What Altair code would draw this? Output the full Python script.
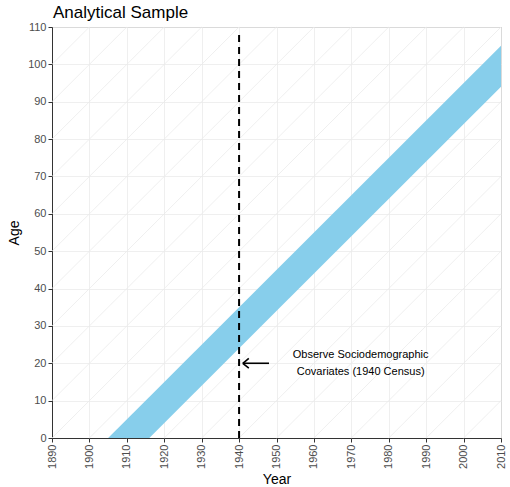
import altair as alt
import pandas as pd

# --- data ---
x_ticks = list(range(1890, 2011, 10))
y_ticks = list(range(0, 111, 10))
birth_lines = list(range(1780, 2010, 10))   # lexis cohort lines
cohort_start = 1905
cohort_end = 1916
band_years = [1905, 1916, 2010]
census_year = 1940
dash_top = 108.5
arrow_tip = 1941
arrow_tail = 1948
arrow_age = 20
label_year = 1972.5
label_lines = ["Observe Sociodemographic", "Covariates (1940 Census)"]
label_ages = [22.3, 17.6]

XMIN, XMAX, YMIN, YMAX = 1890, 2010, 0, 110
FONT = "Liberation Sans"

# diagonal lexis lines, clipped to the panel
segs = []
for b in birth_lines:
    x0 = max(XMIN, b)
    x1 = min(XMAX, b + YMAX)
    if x1 > x0:
        segs.append({"x": x0, "y": x0 - b, "x2": x1, "y2": x1 - b})
diag_df = pd.DataFrame(segs)

band_df = pd.DataFrame({
    "year": band_years,
    "lo": [max(0, y - cohort_end) for y in band_years],
    "hi": [y - cohort_start for y in band_years],
})

xs = alt.Scale(domain=[XMIN, XMAX], nice=False, zero=False)
ys = alt.Scale(domain=[YMIN, YMAX], nice=False)
xaxis = alt.Axis(values=x_ticks, labelAngle=-90, format="d", labelOverlap=False,
                 tickCount=13)
yaxis = alt.Axis(values=y_ticks, labelOverlap=False, tickCount=12)


def X(f):
    return alt.X(f, scale=xs, axis=xaxis, title="Year")


def Y(f):
    return alt.Y(f, scale=ys, axis=yaxis, title="Age")


diag = alt.Chart(diag_df).mark_rule(color="#ebebeb", strokeWidth=0.8).encode(
    x=X("x:Q"), y=Y("y:Q"), x2="x2:Q", y2="y2:Q")

band = alt.Chart(band_df).mark_area(color="#87CEEB", opacity=1).encode(
    x=X("year:Q"), y=Y("lo:Q"), y2="hi:Q")

dash_df = pd.DataFrame({"x": [census_year], "y": [0], "y2": [dash_top]})
dash = alt.Chart(dash_df).mark_rule(color="black", strokeWidth=2,
                                    strokeDash=[7, 5]).encode(
    x=X("x:Q"), y=Y("y:Q"), y2="y2:Q")

arrow_df = pd.DataFrame({
    "x": [arrow_tail, arrow_tip, arrow_tip],
    "y": [arrow_age, arrow_age, arrow_age],
    "x2": [arrow_tip, arrow_tip + 1.6, arrow_tip + 1.6],
    "y2": [arrow_age, arrow_age + 1.3, arrow_age - 1.3],
})
arrow = alt.Chart(arrow_df).mark_rule(color="black", strokeWidth=1.6).encode(
    x=X("x:Q"), y=Y("y:Q"), x2="x2:Q", y2="y2:Q")

text_df = pd.DataFrame({"x": [label_year] * 2, "y": label_ages, "t": label_lines})
text = alt.Chart(text_df).mark_text(font=FONT, fontSize=11, color="black",
                                    align="center", baseline="middle").encode(
    x=X("x:Q"), y=Y("y:Q"), text="t:N")

chart = alt.layer(diag, band, dash, arrow, text).properties(
    width=449, height=411,
    autosize=alt.AutoSizeParams(type="none"),
    padding={"left": 52, "top": 27, "right": 9, "bottom": 49},
    title=alt.TitleParams("Analytical Sample", anchor="start", frame="group",
                          font=FONT, fontSize=17, fontWeight="normal",
                          color="black", dx=1, dy=7, offset=6),
).configure_view(stroke="#9a9a9a", strokeWidth=1).configure_axis(
    grid=True, gridColor="#ebebeb", gridWidth=0.8,
    domainColor="#333333", domainWidth=1,
    tickColor="#333333", tickSize=4,
    labelFont=FONT, labelFontSize=11, labelColor="#4d4d4d", labelPadding=2,
    titleFont=FONT, titleFontSize=14, titleFontWeight="normal", titleColor="black",
).configure_axisX(titlePadding=4).configure_axisY(titlePadding=6)

chart.save("out.html", embed_options={"renderer": "svg", "actions": False})
